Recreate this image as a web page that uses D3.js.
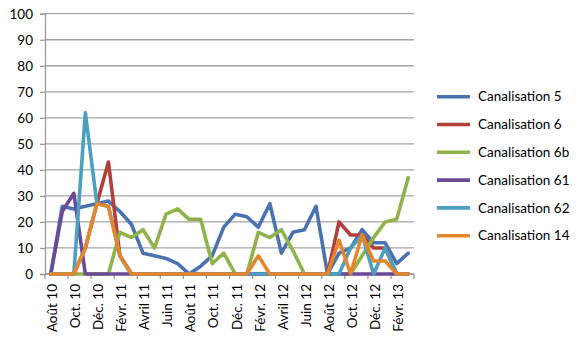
<!DOCTYPE html>
<html>
<head>
<meta charset="utf-8">
<script src="https://cdn.jsdelivr.net/npm/d3@7"></script>
<style>
  html, body { margin: 0; padding: 0; background: #fff; }
  svg text { font-family: Lato, "Open Sans", "Liberation Sans", sans-serif; fill: #000; }
</style>
</head>
<body>
<svg id="chart" width="580" height="357"></svg>
<script>
const months = ["Août 10","Sept. 10","Oct. 10","Nov. 10","Déc. 10","Janv. 11","Févr. 11","Mars 11","Avril 11","Mai 11","Juin 11","Juil. 11","Août 11","Sept. 11","Oct. 11","Nov. 11","Déc. 11","Janv. 12","Févr. 12","Mars 12","Avril 12","Mai 12","Juin 12","Juil. 12","Août 12","Sept. 12","Oct. 12","Nov. 12","Déc. 12","Janv. 13","Févr. 13","Mars 13"];
const yTicks = [0,10,20,30,40,50,60,70,80,90,100];
const seriesNames = ["Canalisation 5","Canalisation 6","Canalisation 6b","Canalisation 61","Canalisation 62","Canalisation 14"];
const c5   = [0,26,25,26,27,28,24,19,8,7,6,4,0,3,7,18,23,22,18,27,8,16,17,26,0,8,10,17,12,12,4,8];
const c6   = [0,0,0,10,27,43,7,0,0,0,0,0,0,0,0,0,0,0,0,0,0,0,0,0,0,20,15,15,10,10,0,0];
const c6b  = [0,0,0,0,0,0,16,14,17,10,23,25,21,21,4,8,0,0,16,14,17,9,0,0,0,0,0,7,14,20,21,37];
const c61  = [0,24,31,0,0,0,0,0,0,0,0,0,0,0,0,0,0,0,0,0,0,0,0,0,0,0,0,0,0,0,0,0];
const c62  = [0,0,0,62,27,26,7,0,0,0,0,0,0,0,0,0,0,0,0,0,0,0,0,0,0,0,10,15,0,10,0,0];
const c14  = [0,0,0,10,27,26,7,0,0,0,0,0,0,0,0,0,0,0,7,0,0,0,0,0,0,13,0,15,5,5,0,0];
const seriesValues = [c5, c6, c6b, c61, c62, c14];
const colors = ["#4a72b0","#b0403c","#8fb24a","#6b4a98","#4aa0be","#e3862e"];

const svg = d3.select("#chart");
const pLeft = 45, pRight = 414, pTop = 13.7, pBottom = 274;

const x = d3.scaleBand().domain(months).range([pLeft, pRight]).padding(0);
const y = d3.scaleLinear().domain([0, 100]).range([pBottom, pTop]);

// gridlines
svg.append("g").selectAll("line").data(yTicks).join("line")
  .attr("x1", pLeft).attr("x2", pRight)
  .attr("y1", d => y(d)).attr("y2", d => y(d))
  .attr("stroke", "#a3a3a3").attr("stroke-width", 1.3);

// y axis
const yAxis = d3.axisLeft(y).tickValues(yTicks).tickSize(5).tickPadding(7);
const gy = svg.append("g").attr("transform", `translate(${pLeft},0)`).call(yAxis);
gy.select(".domain").attr("stroke", "#9a9a9a").attr("stroke-width", 1.3);
gy.selectAll(".tick line").attr("stroke", "#9a9a9a").attr("stroke-width", 1.3);
gy.selectAll(".tick text").attr("font-size", "13.5px").style("font-family", "Lato, 'Open Sans', sans-serif");

// x axis line
svg.append("line").attr("x1", pLeft).attr("x2", pRight).attr("y1", pBottom).attr("y2", pBottom)
  .attr("stroke", "#9a9a9a").attr("stroke-width", 1.3);
// x tick marks at every second category boundary
const tickPos = months.filter((m, i) => i % 2 === 0).map(m => x(m)).concat([x.range()[1]]);
svg.append("g").selectAll("line").data(tickPos).join("line")
  .attr("x1", d => d).attr("x2", d => d).attr("y1", pBottom).attr("y2", pBottom + 5)
  .attr("stroke", "#9a9a9a").attr("stroke-width", 1.3);
// x labels
const labelMonths = months.filter((m, i) => i % 2 === 0);
svg.append("g").selectAll("text").data(labelMonths).join("text")
  .attr("transform", d => `translate(${x(d) + x.bandwidth()/2 + 1.5},${pBottom + 10}) rotate(-90)`)
  .attr("text-anchor", "end").attr("dy", "0.35em")
  .attr("font-size", "13.5px")
  .text(d => d);

// lines
const line = d3.line().x((d, i) => x(months[i]) + x.bandwidth()/2).y(d => y(d));
svg.append("g").selectAll("path").data(seriesValues).join("path")
  .attr("d", d => line(d))
  .attr("fill", "none")
  .attr("stroke", (d, i) => colors[i])
  .attr("stroke-width", 3.6)
  .attr("stroke-linejoin", "round")
  .attr("stroke-linecap", "round");

// legend
const lg = svg.append("g");
const legY = d3.scaleLinear().domain([0, 1]).range([96.7, 124.5]);
seriesNames.forEach((name, i) => {
  const yy = legY(i);
  lg.append("line").attr("x1", 437).attr("x2", 470).attr("y1", yy).attr("y2", yy)
    .attr("stroke", colors[i]).attr("stroke-width", 3.6);
  lg.append("text").attr("x", 478).attr("y", yy).attr("dy", "0.35em")
    .attr("font-size", "13.5px").text(name);
});
</script>
</body>
</html>
